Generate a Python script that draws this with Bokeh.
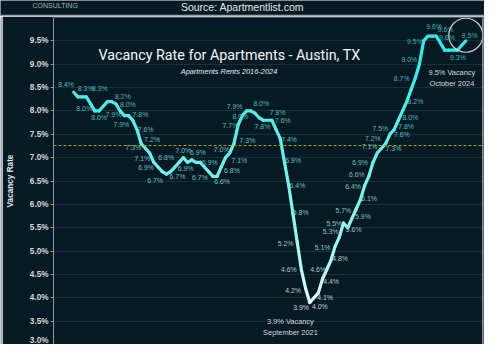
import numpy as np
from bokeh.plotting import figure
from bokeh.layouts import column, row
from bokeh.models import ColumnDataSource, Label, Span, FixedTicker, PrintfTickFormatter
from bokeh.core.properties import value
from bokeh.embed import file_html
from bokeh.resources import INLINE

# ---- data: monthly apartment vacancy rate, Austin TX (Jan 2017 .. Oct 2024) ----
vacancy = [
    8.4, 8.3, 8.3, 8.3, 8.15, 8.0, 8.0, 8.1, 8.2, 8.2,
    8.15, 8.0, 7.9, 7.9, 7.8, 7.6, 7.3, 7.2, 7.1, 6.9,
    6.8, 6.7, 6.65, 6.7, 6.8, 6.9, 7.0, 6.9, 6.95, 6.9,
    6.9, 6.8, 6.7, 6.6, 6.6, 6.8, 7.0, 7.1, 7.3, 7.7,
    7.9, 8.0, 8.0, 7.95, 7.85, 7.8, 7.8, 7.8, 7.6, 7.4,
    6.9, 6.4, 5.8, 5.2, 4.6, 4.2, 3.9, 4.0, 4.1, 4.4,
    4.6, 4.8, 5.1, 5.3, 5.6, 5.5, 5.7, 5.9, 6.1, 6.4,
    6.6, 6.9, 7.1, 7.2, 7.3, 7.5, 7.6, 7.8, 8.0, 8.2,
    8.45, 8.7, 9.0, 9.5, 9.6, 9.6, 9.6, 9.45, 9.3, 9.3,
    9.3, 9.3, 9.4, 9.5,
]
# label placement (pixel offset from its point); None = value not labelled
label_offset = [
    (-8, -8), (8, -8.5), None, (14, -8.5), None, (-11, -3), (0, 6.5), None, (16, -5), None,
    None, (8, -7), (-11, -1), (-7.5, 9), (8, -6), (9, 0), (-8, 4), (7, -9), (-7.5, 6), (-8, 5),
    None, (-7.5, 9.5), None, (7, 5), (-9, -10), None, (0, -7), (-2, 6), None, (2, -10),
    (10, 0), None, (-9, 6), (9.5, 5), None, (11, 4), (-4, -8), (10, 8), (14, -3), (-8, 0.5),
    (-8, -9.5), (-6.5, 5.5), (11, -8), None, None, (-1, 6), None, (6, -8), (7, -9), (9, 1),
    (9, -2), (9, 0), (8, -1.5), (-12, 2), (-13, 0), (-13, 2), (-9, 5), (6, 9), (7, 5), (9, 2),
    (-9, 0), (9.5, -2), (-13, 1), (-9, -6), (10.5, 7), (-14, -4.5), (-9, -8), (7, 8), (9, -1), (-12, 0.5),
    (-12.5, -2), (-13.5, 0), (-8, -6.5), (-9, -10), (8, 5), (-10, -6), (8, 5), (8, 6), (8, 6.5), (9, 0),
    None, (-14, 0), (-10.5, -5), (-9, 0.5), (6.5, -10.5), (14, -7), (11, 1), None, None, None,
    (5, 8), None, None, (4, -6),
]
y_ticks = [3.0, 3.5, 4.0, 4.5, 5.0, 5.5, 6.0, 6.5, 7.0, 7.5, 8.0, 8.5, 9.0, 9.5]

title_text = "Vacancy Rate for Apartments - Austin, TX"
subtitle_text = "Apartments Rents  2016-2024"
source_text = "Source: Apartmentlist.com"
brand_text = "CONSULTING"
axis_title = "Vacancy Rate"
low_note = "3.9% Vacancy\nSeptember 2021"
high_note = "9.5% Vacancy\nOctober 2024"

# ---- styling ----
BG = "#061a24"
GRID = "#17303b"
RULE = "#9aa3a8"
X_START, X_END = -4.8, 97.2


def mix(c_lo, c_hi, t):
    r = [int(round(a + (b - a) * t)) for a, b in zip(c_lo, c_hi)]
    return "#%02x%02x%02x" % tuple(r)


v = np.array(vacancy, dtype=float)
x = np.arange(len(v))
vmin, vmax = v.min(), v.max()

# ---- header strip ----
header = figure(width=484, height=16, output_backend="svg", toolbar_location=None,
                x_range=(0, 1), y_range=(0, 1), x_axis_location=None, y_axis_location=None,
                min_border=0, background_fill_color=BG, border_fill_color=BG,
                outline_line_color=None)
header.grid.visible = False
header.add_layout(Span(location=0.06, dimension="width", line_color=RULE, line_width=1.6))
header.add_layout(Label(x=242, y=10, x_units="screen", y_units="screen", text=source_text,
                        text_font="Liberation Sans", text_font_size="10.5px",
                        text_color="#e6e9ea", text_align="center", text_baseline="middle"))
header.add_layout(Label(x=32, y=11.5, x_units="screen", y_units="screen", text=brand_text,
                        text_font="Liberation Sans", text_font_size="7px",
                        text_color="#a9b0b4", text_align="left", text_baseline="middle"))

# ---- left edge of the framing box ----
edge = figure(width=2, height=328, output_backend="svg", toolbar_location=None,
              x_range=(0, 1), y_range=(0, 1), x_axis_location=None, y_axis_location=None,
              min_border=0, background_fill_color=RULE, border_fill_color=RULE,
              outline_line_color=None)
edge.grid.visible = False

# ---- main chart ----
p = figure(width=482, height=328, output_backend="svg", toolbar_location=None,
           x_range=(X_START, X_END), y_range=(3.0, 10.0), x_axis_location=None,
           min_border_left=49, min_border_right=1, min_border_top=1, min_border_bottom=0,
           background_fill_color=BG, border_fill_color=BG, outline_line_color=None)
p.xgrid.visible = False
p.ygrid.grid_line_color = GRID
p.ygrid.grid_line_width = 1
p.yaxis.ticker = FixedTicker(ticks=y_ticks)
p.yaxis.formatter = PrintfTickFormatter(format="%.1f%%")
p.yaxis.axis_line_color = "#8d989e"
p.yaxis.major_tick_line_color = "#8d989e"
p.yaxis.major_tick_out = 3
p.yaxis.major_tick_in = 0
p.yaxis.minor_tick_line_color = None
p.yaxis.major_label_standoff = 2
p.yaxis.major_label_text_font = "Liberation Sans"
p.yaxis.major_label_text_font_size = "8.2px"
p.yaxis.major_label_text_font_style = "bold"
p.yaxis.major_label_text_color = "#d5dadd"
p.yaxis.axis_label = axis_title
p.yaxis.axis_label_text_font = "Liberation Sans"
p.yaxis.axis_label_text_font_size = "8.2px"
p.yaxis.axis_label_text_font_style = "bold"
p.yaxis.axis_label_text_color = "#e2e6e8"
p.yaxis.axis_label_standoff = 12

# right edge of the framing box
p.add_layout(Span(location=X_END - 0.15, dimension="height", line_color=RULE, line_width=1.5))

# average line
avg = float(np.mean(v))
p.add_layout(Span(location=avg, dimension="width", line_color="#a8a31c",
                  line_dash="3 2", line_width=1.1))

# gradient line
seg_v = (v[:-1] + v[1:]) / 2
tt = np.clip((seg_v - vmin) / (vmax - vmin), 0, 1) ** 0.6
seg_colors = [mix((242, 255, 255), (46, 232, 232), t) for t in tt]
p.segment(x0=x[:-1], y0=v[:-1], x1=x[1:], y1=v[1:], line_color=seg_colors,
          line_width=3.2, line_cap="round")

# value labels
idx = [i for i, o in enumerate(label_offset) if o is not None]
lt = np.clip((v[idx] - vmin) / (vmax - vmin), 0, 1) ** 0.6
lab_src = ColumnDataSource(dict(
    x=x[idx], y=v[idx],
    text=["%.1f%%" % v[i] for i in idx],
    dx=[label_offset[i][0] * 0.965 for i in idx],
    dy=[label_offset[i][1] * 0.96 for i in idx],
    color=[mix((205, 214, 214), (52, 184, 184), t) for t in lt],
))
p.text(x="x", y="y", text="text", x_offset="dx", y_offset="dy", text_color="color",
       source=lab_src, text_font=value("Liberation Sans"), text_font_size="6.9px",
       text_align="center", text_baseline="middle")

# circle around the latest value
p.scatter(x=[x[-1]], y=[v[-1] + 0.12], size=34, fill_alpha=0,
          line_color="#cfd3d5", line_width=1.2)

# notes
imin = int(np.argmin(v))
p.add_layout(Label(x=x[imin] - 4.6, y=v[imin] - 0.52, text=low_note,
                   text_font="Liberation Sans", text_font_size="7.4px",
                   text_color="#d6dbdc", text_align="center", text_baseline="middle"))
p.add_layout(Label(x=x[-1] - 3.3, y=v[-1] - 0.8, text=high_note,
                   text_font="Liberation Sans", text_font_size="7.4px",
                   text_color="#d6dbdc", text_align="center", text_baseline="middle"))

# titles (screen units relative to the frame)
p.add_layout(Label(x=176, y=289.5, x_units="screen", y_units="screen", text=title_text,
                   text_font="Roboto", text_font_size="14.3px", text_color="#f4f6f7",
                   text_align="center", text_baseline="middle"))
p.add_layout(Label(x=176.5, y=273, x_units="screen", y_units="screen", text=subtitle_text,
                   text_font="Liberation Sans", text_font_size="7.4px", text_font_style="italic",
                   text_color="#e8ecee", text_align="center", text_baseline="middle"))

open("out.html", "w").write(file_html(column(header, row(edge, p)), INLINE))
